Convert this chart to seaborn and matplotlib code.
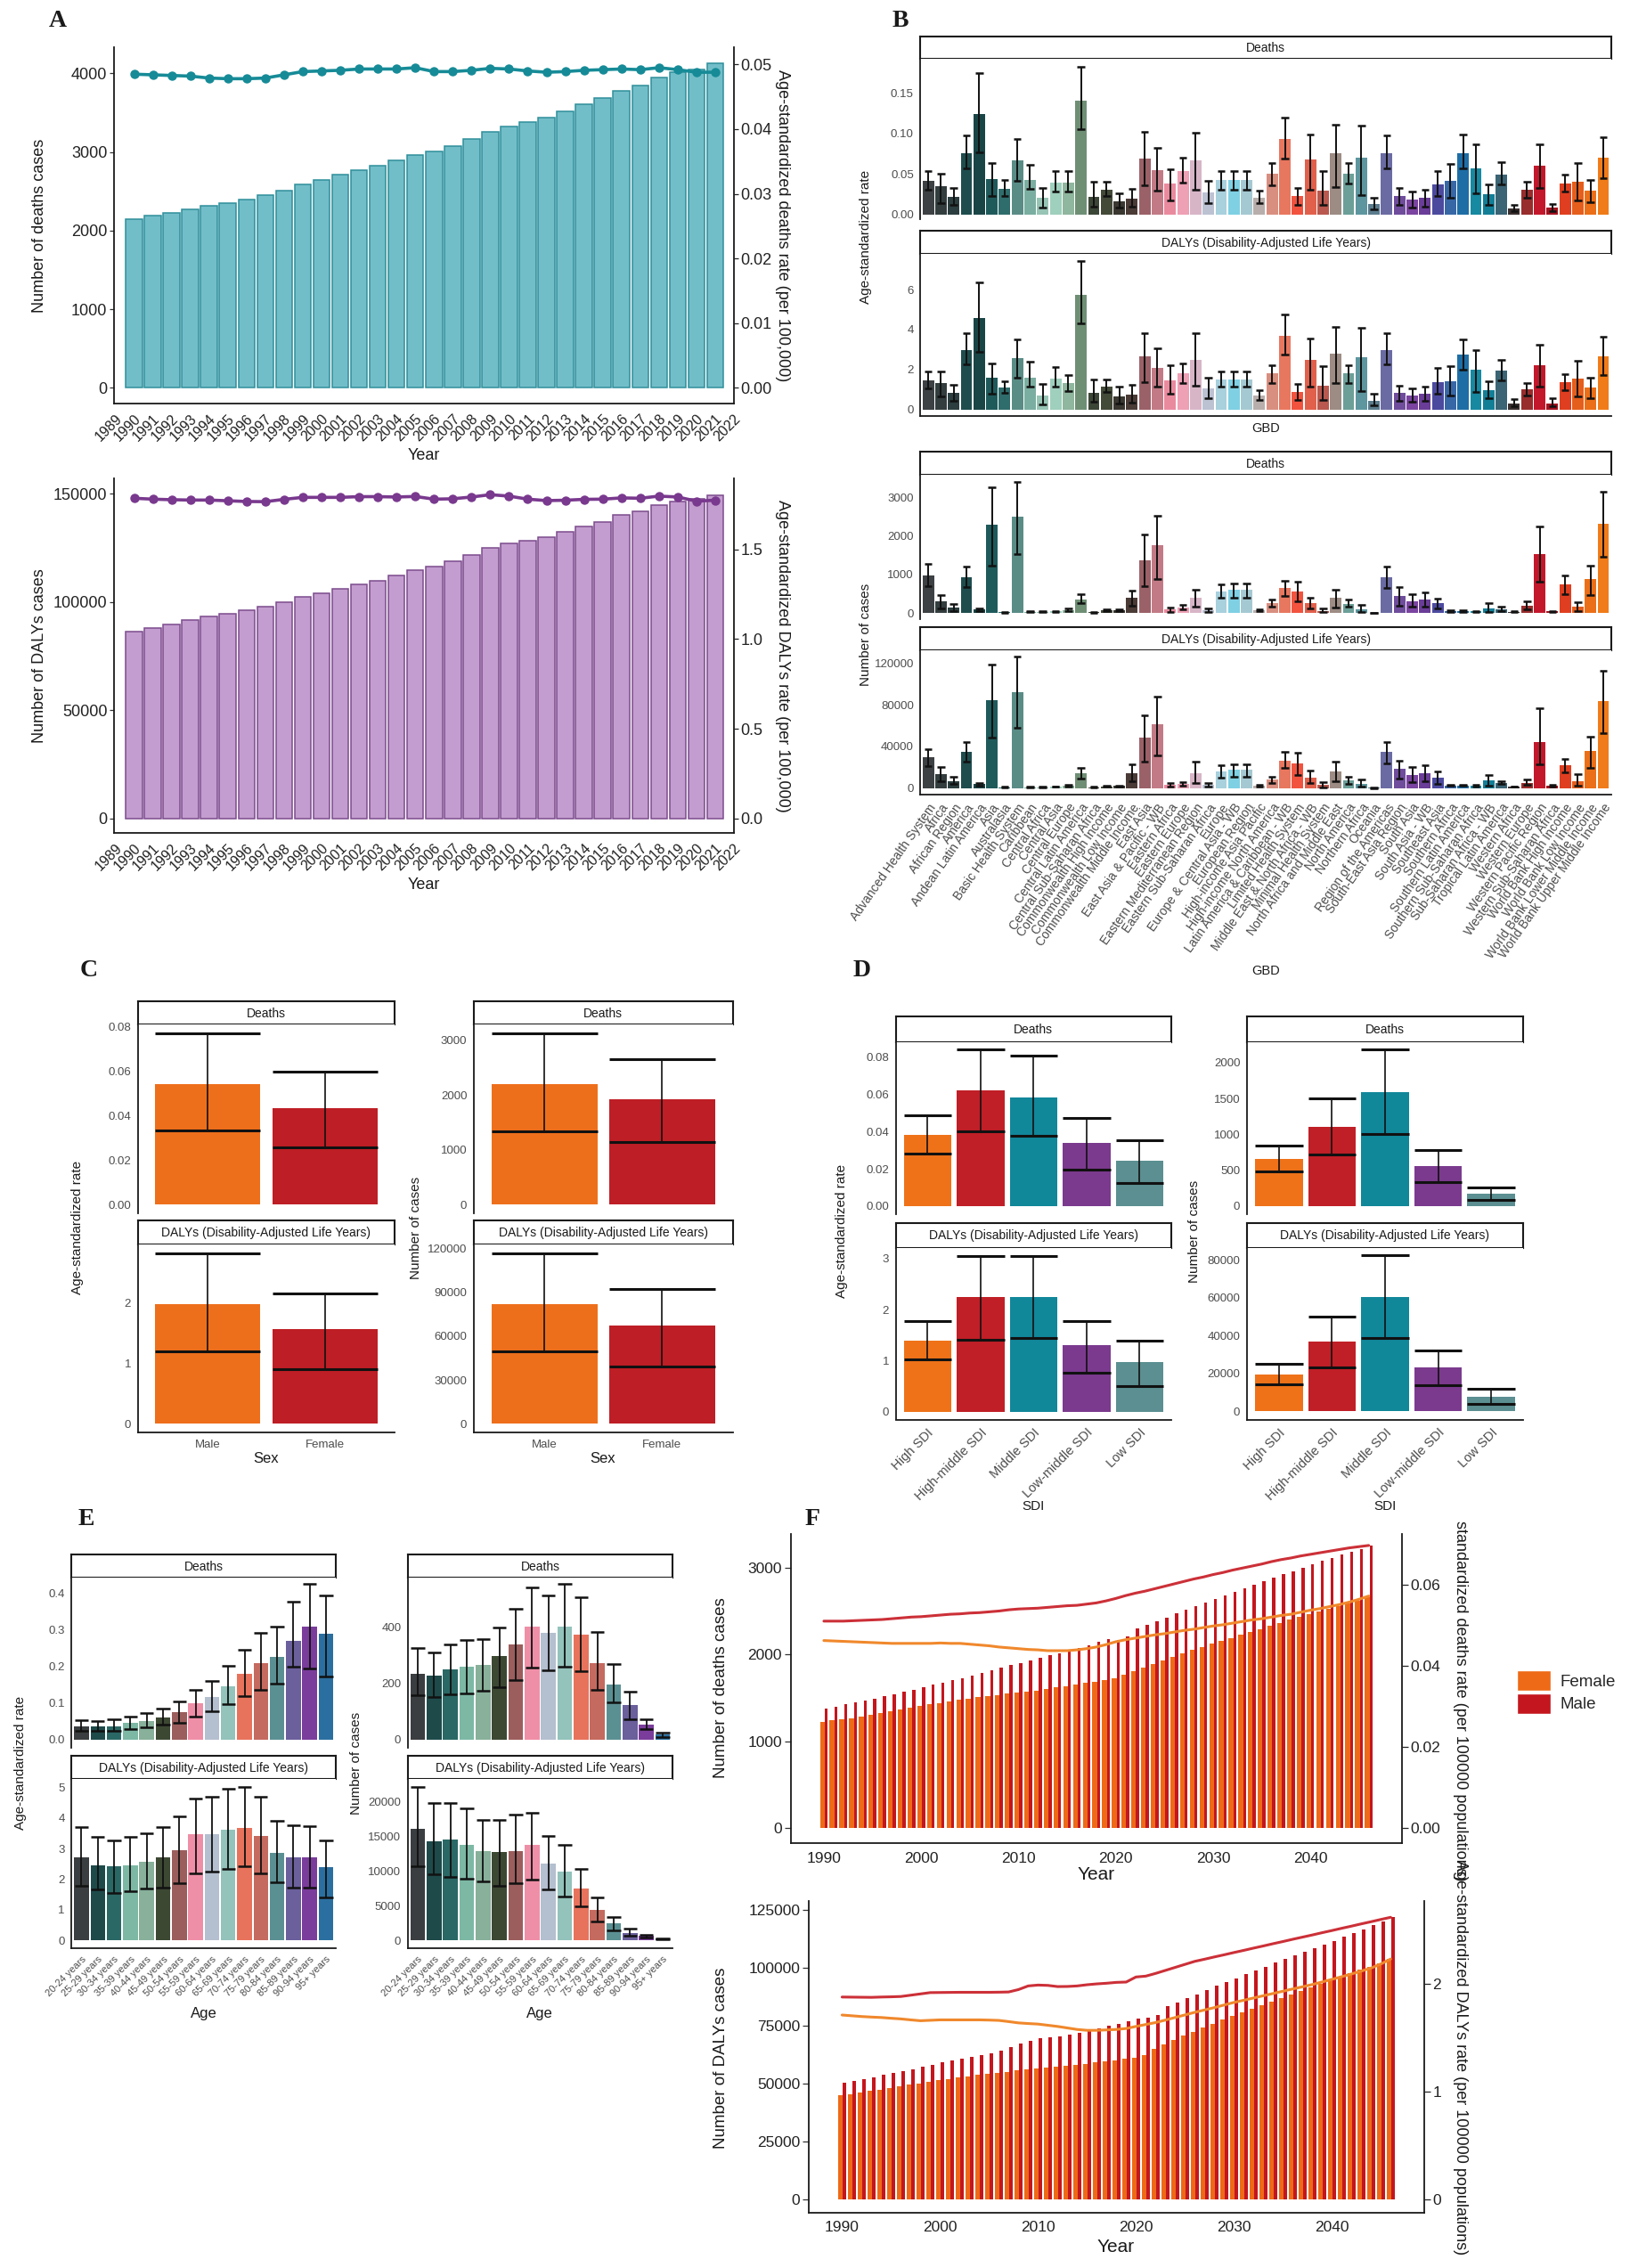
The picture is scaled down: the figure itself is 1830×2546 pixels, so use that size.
import numpy as np
import pandas as pd
import matplotlib.pyplot as plt
import seaborn as sns
from matplotlib.colors import to_rgba
from matplotlib.patches import Patch, Rectangle

W, H = 1831, 2546

# ---------- A: global trend 1990-2021 ----------
a_years = list(range(1990, 2022))
a_deaths = [2145, 2187, 2229, 2270, 2316, 2346, 2395, 2448, 2512, 2584,
            2645, 2709, 2770, 2830, 2891, 2966, 3008, 3076, 3163, 3254,
            3326, 3379, 3435, 3515, 3606, 3689, 3780, 3844, 3946, 4015,
            4045, 4132]
a_deaths_rate = [0.0485, 0.0484, 0.0483, 0.0482, 0.0479, 0.0478, 0.0478, 0.0479, 0.0484, 0.0489,
                 0.0490, 0.0491, 0.0493, 0.0493, 0.0493, 0.0495, 0.0489, 0.0489, 0.0491, 0.0494,
                 0.0493, 0.0490, 0.0488, 0.0489, 0.0491, 0.0492, 0.0493, 0.0492, 0.0495, 0.0492,
                 0.0488, 0.0488]
a_dalys = [86370, 88020, 89800, 91580, 93230, 94730, 96100, 97890, 99810, 102400,
           104060, 105980, 108030, 109950, 112150, 114620, 116260, 118730, 121880, 125170,
           127230, 128460, 130110, 132300, 134770, 136960, 140120, 141760, 144910, 146560,
           147520, 149440]
a_dalys_rate = [1.786, 1.781, 1.778, 1.776, 1.776, 1.772, 1.768, 1.767, 1.780, 1.791,
                1.791, 1.791, 1.795, 1.795, 1.793, 1.796, 1.781, 1.783, 1.793, 1.806,
                1.798, 1.781, 1.773, 1.775, 1.780, 1.781, 1.788, 1.786, 1.798, 1.793,
                1.770, 1.775]

# ---------- B: GBD regions ----------
gbd_regions = [
    "Advanced Health System", "Africa", "African Region", "America", "Andean Latin America",
    "Asia", "Australasia", "Basic Health System", "Caribbean", "Central Africa",
    "Central Asia", "Central Europe", "Central Latin America", "Central Sub-Saharan Africa",
    "Commonwealth High Income", "Commonwealth Low Income", "Commonwealth Middle Income",
    "East Asia", "East Asia & Pacific - WB", "Eastern Africa", "Eastern Europe",
    "Eastern Mediterranean Region", "Eastern Sub-Saharan Africa", "Europe",
    "Europe & Central Asia - WB", "European Region", "High-income Asia Pacific",
    "High-income North America", "Latin America & Caribbean - WB", "Limited Health System",
    "Middle East & North Africa - WB", "Minimal Health System", "North Africa and Middle East",
    "North America", "Northern Africa", "Oceania", "Region of the Americas",
    "South-East Asia Region", "South Asia", "South Asia - WB", "Southeast Asia",
    "Southern Africa", "Southern Latin America", "Southern Sub-Saharan Africa",
    "Sub-Saharan Africa - WB", "Tropical Latin America", "Western Africa", "Western Europe",
    "Western Pacific Region", "Western Sub-Saharan Africa", "World Bank High Income",
    "World Bank Low Income", "World Bank Lower Middle Income", "World Bank Upper Middle Income"]
b_colors = ['#3d4143', '#333d3e', '#2c3e3f', '#1f4d4e', '#1a4546', '#1f5a5b', '#2f6d6c', '#5a8c86', '#7aaea0', '#97c4b5',
            '#9fcfbd', '#8fb69e', '#6f8f75', '#3c4637', '#434a38', '#3a3730', '#4b3b37', '#9b6168', '#c27b86', '#e98a9f',
            '#eea0b5', '#d7b5c7', '#bcc2d2', '#a8d0dd', '#7fd0e3', '#a5c9d2', '#b8aeab', '#d88f80', '#e8775f', '#f2533f',
            '#e1604c', '#b9584e', '#9d8c84', '#6c9f98', '#5d969f', '#5b7c8c', '#6b6ba3', '#6f4d9c', '#7a44a0', '#6a3d98',
            '#4c4a9f', '#3867a6', '#1e6ea5', '#1789a0', '#137f97', '#3b6474', '#3a2f2f', '#982d2d', '#c3182b', '#a4121f',
            '#df3f20', '#e55e1c', '#eb6f18', '#f07c19']

b_rate_deaths = [0.041, 0.035, 0.022, 0.076, 0.124, 0.044, 0.032, 0.067, 0.043, 0.020,
                 0.039, 0.039, 0.140, 0.022, 0.030, 0.016, 0.019, 0.069, 0.055, 0.038,
                 0.054, 0.067, 0.027, 0.042, 0.042, 0.042, 0.020, 0.050, 0.093, 0.023,
                 0.068, 0.029, 0.075, 0.050, 0.070, 0.013, 0.076, 0.023, 0.018, 0.020,
                 0.037, 0.041, 0.076, 0.057, 0.025, 0.049, 0.007, 0.030, 0.060, 0.008,
                 0.038, 0.040, 0.029, 0.070]
b_rate_deaths_lo = [0.030, 0.014, 0.012, 0.057, 0.077, 0.023, 0.023, 0.041, 0.031, 0.008,
                    0.028, 0.028, 0.105, 0.009, 0.023, 0.008, 0.010, 0.036, 0.029, 0.017,
                    0.039, 0.030, 0.014, 0.030, 0.030, 0.030, 0.014, 0.036, 0.069, 0.012,
                    0.030, 0.012, 0.034, 0.038, 0.024, 0.006, 0.057, 0.012, 0.008, 0.010,
                    0.023, 0.020, 0.057, 0.026, 0.012, 0.037, 0.004, 0.021, 0.033, 0.004,
                    0.028, 0.017, 0.015, 0.045]
b_rate_deaths_hi = [0.053, 0.050, 0.033, 0.097, 0.174, 0.063, 0.043, 0.093, 0.061, 0.033,
                    0.053, 0.053, 0.182, 0.040, 0.040, 0.026, 0.031, 0.102, 0.082, 0.056,
                    0.070, 0.101, 0.041, 0.054, 0.054, 0.054, 0.029, 0.063, 0.119, 0.033,
                    0.099, 0.054, 0.111, 0.063, 0.109, 0.021, 0.097, 0.033, 0.028, 0.030,
                    0.053, 0.062, 0.098, 0.086, 0.037, 0.064, 0.012, 0.040, 0.086, 0.013,
                    0.049, 0.063, 0.043, 0.095]
b_rate_dalys = [1.46, 1.31, 0.83, 2.98, 4.59, 1.61, 1.09, 2.55, 1.61, 0.71,
                1.56, 1.31, 5.73, 0.82, 1.16, 0.67, 0.74, 2.65, 2.09, 1.46,
                1.79, 2.50, 1.04, 1.50, 1.50, 1.50, 0.71, 1.79, 3.69, 0.89,
                2.50, 1.19, 2.80, 1.79, 2.62, 0.42, 2.98, 0.82, 0.71, 0.79,
                1.38, 1.43, 2.73, 2.01, 0.98, 1.94, 0.30, 1.01, 2.23, 0.31,
                1.36, 1.53, 1.09, 2.68]
b_rate_dalys_lo = [1.06, 0.64, 0.42, 2.26, 2.87, 0.79, 0.83, 1.61, 1.12, 0.27,
                   1.13, 0.94, 4.32, 0.37, 0.86, 0.31, 0.34, 1.38, 1.12, 0.79,
                   1.31, 1.19, 0.57, 1.12, 1.12, 1.12, 0.49, 1.31, 2.77, 0.49,
                   1.12, 0.49, 1.31, 1.31, 0.94, 0.19, 2.26, 0.45, 0.39, 0.42,
                   0.79, 0.71, 1.98, 0.89, 0.57, 1.46, 0.15, 0.71, 1.16, 0.15,
                   0.98, 0.64, 0.57, 1.73]
b_rate_dalys_hi = [1.91, 1.91, 1.22, 3.81, 6.37, 2.32, 1.43, 3.51, 2.38, 1.27,
                   2.13, 1.73, 7.42, 1.49, 1.49, 1.12, 1.24, 3.80, 3.07, 2.20,
                   2.32, 3.80, 1.61, 1.91, 1.91, 1.91, 0.98, 2.23, 4.74, 1.27,
                   3.57, 2.17, 4.14, 2.23, 4.07, 0.79, 3.81, 1.19, 1.04, 1.16,
                   2.06, 2.16, 3.51, 2.95, 1.41, 2.47, 0.52, 1.34, 3.22, 0.54,
                   1.76, 2.43, 1.61, 3.62]
b_num_deaths = [982, 309, 155, 928, 100, 2282, 31, 2490, 39, 39,
                54, 85, 363, 31, 70, 70, 387, 1377, 1756, 93,
                155, 387, 85, 557, 596, 596, 85, 271, 650, 565,
                255, 62, 394, 248, 108, 8, 936, 449, 317, 356,
                255, 54, 54, 46, 131, 108, 39, 201, 1531, 46,
                735, 162, 874, 2305]
b_num_deaths_lo = [696, 131, 54, 681, 62, 1237, 15, 1524, 23, 23,
                   39, 62, 255, 15, 46, 46, 193, 696, 889, 39,
                   100, 170, 39, 402, 402, 402, 62, 170, 449, 309,
                   116, 23, 147, 162, 39, 0, 657, 193, 170, 170,
                   116, 39, 39, 31, 39, 54, 31, 100, 812, 39,
                   480, 54, 464, 1462]
b_num_deaths_hi = [1276, 464, 232, 1199, 131, 3248, 39, 3403, 46, 46,
                   62, 116, 487, 39, 100, 100, 572, 2026, 2514, 155,
                   209, 603, 131, 735, 773, 773, 108, 348, 843, 812,
                   402, 116, 596, 348, 209, 15, 1199, 673, 480, 534,
                   379, 70, 70, 62, 271, 162, 54, 317, 2243, 54,
                   982, 294, 1237, 3132]
b_num_dalys = [29580, 13210, 6600, 34460, 3730, 84140, 860, 92180, 860, 860,
               1440, 2300, 14640, 860, 1720, 2010, 14640, 48250, 61160, 3160,
               4020, 14360, 2870, 15790, 17520, 17520, 2300, 8040, 25840, 23830,
               10050, 2870, 16080, 7180, 4310, 290, 34460, 18090, 12350, 14640,
               10050, 2580, 2580, 2300, 7180, 5170, 1440, 4880, 43930, 2300,
               21540, 6600, 35320, 83280]
b_num_dalys_lo = [20960, 6600, 3730, 25270, 2300, 48250, 600, 58290, 600, 600,
                  1100, 1700, 9480, 600, 1300, 1500, 6600, 25270, 31590, 1440,
                  2300, 5170, 1440, 10340, 10910, 10910, 1700, 5170, 19530, 12920,
                  5170, 860, 6600, 3730, 1720, 100, 23830, 9480, 5740, 6600,
                  4310, 2000, 2000, 1700, 2300, 3730, 1100, 2870, 22400, 1700,
                  15220, 2300, 19530, 53130]
b_num_dalys_hi = [37620, 20100, 10910, 44510, 5170, 118590, 1100, 126350, 1100, 1100,
                  1800, 2900, 19530, 1100, 2100, 2500, 22970, 69780, 87870, 5170,
                  5740, 25270, 4600, 21540, 22970, 22970, 2900, 10910, 34460, 33880,
                  16650, 5740, 25270, 10910, 8040, 500, 43930, 25840, 20390, 21820,
                  15790, 3200, 3200, 2900, 12350, 6600, 1800, 8040, 76960, 2900,
                  28140, 13210, 49680, 112850]

# ---------- C: sex ----------
c_sex = ['Male', 'Female']
c_colors = ['#ee6f1b', '#be1e25']
c_rate_deaths, c_rate_deaths_lo, c_rate_deaths_hi = [0.0543, 0.0434], [0.0335, 0.0258], [0.0768, 0.0599]
c_rate_dalys, c_rate_dalys_lo, c_rate_dalys_hi = [1.989, 1.570], [1.204, 0.912], [2.828, 2.159]
c_num_deaths, c_num_deaths_lo, c_num_deaths_hi = [2190, 1922], [1340, 1136], [3116, 2650]
c_num_dalys, c_num_dalys_lo, c_num_dalys_hi = [81780, 66900], [49420, 38920], [116530, 92270]

# ---------- D: SDI ----------
d_sdi = ['High SDI', 'High-middle SDI', 'Middle SDI', 'Low-middle SDI', 'Low SDI']
d_colors = ['#ef7219', '#c01f27', '#11879a', '#7b3a8e', '#5b8f91']
d_rate_deaths = [0.0381, 0.0620, 0.0585, 0.0339, 0.0242]
d_rate_deaths_lo = [0.0282, 0.0402, 0.0376, 0.0197, 0.0123]
d_rate_deaths_hi = [0.0490, 0.0842, 0.0809, 0.0471, 0.0355]
d_rate_dalys = [1.384, 2.239, 2.239, 1.302, 0.962]
d_rate_dalys_lo = [1.019, 1.409, 1.447, 0.761, 0.491]
d_rate_dalys_hi = [1.774, 3.050, 3.050, 1.774, 1.390]
d_num_deaths = [652, 1110, 1587, 562, 171]
d_num_deaths_lo = [481, 719, 1007, 333, 90]
d_num_deaths_hi = [850, 1506, 2185, 778, 256]
d_num_dalys = [19320, 36780, 60510, 23220, 7800]
d_num_dalys_lo = [14240, 23390, 38980, 13730, 3900]
d_num_dalys_hi = [25080, 50170, 82370, 32200, 11860]

# ---------- E: age ----------
e_ages = ['20-24 years', '25-29 years', '30-34 years', '35-39 years', '40-44 years', '45-49 years',
          '50-54 years', '55-59 years', '60-64 years', '65-69 years', '70-74 years', '75-79 years',
          '80-84 years', '85-89 years', '90-94 years', '95+ years']
e_colors = ['#3b3e40', '#1e4a4a', '#2a6865', '#7db8a5', '#88b09a', '#3d4833', '#9b5e5d', '#ef8fa7',
            '#b4bfcf', '#93c3bb', '#e8735c', '#c56a5f', '#5b9093', '#6b5f9c', '#7b3d9c', '#2b6fa0']
e_rate_deaths = [0.0357, 0.0357, 0.0375, 0.0448, 0.0503, 0.0595, 0.0750, 0.0997, 0.1162, 0.1455, 0.1802, 0.2095, 0.2260, 0.2690, 0.3083, 0.2882]
e_rate_deaths_lo = [0.0247, 0.0247, 0.0247, 0.0293, 0.0339, 0.0403, 0.0467, 0.0640, 0.0769, 0.0961, 0.1189, 0.1363, 0.1528, 0.1985, 0.1940, 0.1729]
e_rate_deaths_hi = [0.0540, 0.0520, 0.0558, 0.0640, 0.0723, 0.0842, 0.1043, 0.1363, 0.1601, 0.2004, 0.2443, 0.2900, 0.3083, 0.3751, 0.4254, 0.3934]
e_rate_dalys = [2.70, 2.46, 2.41, 2.46, 2.57, 2.71, 2.94, 3.47, 3.47, 3.62, 3.67, 3.40, 2.86, 2.70, 2.70, 2.38]
e_rate_dalys_lo = [1.78, 1.65, 1.54, 1.60, 1.68, 1.71, 1.87, 2.19, 2.25, 2.32, 2.43, 2.19, 1.90, 1.71, 1.71, 1.41]
e_rate_dalys_hi = [3.70, 3.37, 3.27, 3.39, 3.49, 3.70, 4.06, 4.64, 4.70, 4.95, 5.02, 4.70, 3.89, 3.76, 3.73, 3.25]
e_num_deaths = [235, 229, 249, 260, 267, 298, 338, 404, 382, 404, 374, 274, 198, 122, 54, 20]
e_num_deaths_lo = [158, 152, 160, 164, 174, 188, 212, 257, 247, 260, 244, 178, 132, 74, 37, 8]
e_num_deaths_hi = [326, 311, 340, 356, 360, 401, 468, 543, 514, 556, 508, 383, 268, 170, 74, 24]
e_num_dalys = [16100, 14290, 14520, 13810, 12860, 12760, 12900, 13710, 11100, 9900, 7520, 4430, 2430, 1100, 620, 240]
e_num_dalys_lo = [10620, 9520, 9190, 8860, 8480, 7900, 8240, 8710, 7290, 6330, 4900, 2760, 1430, 620, 380, 140]
e_num_dalys_hi = [22140, 19760, 19760, 19050, 17380, 17380, 18100, 18330, 15050, 13710, 10330, 6190, 3380, 1670, 760, 290]

# ---------- F: projection to 2046 ----------
f_years = list(range(1990, 2047))
f_deaths_male = [1370, 1395, 1422, 1446, 1470, 1491, 1515, 1543, 1567, 1594,
                 1625, 1649, 1677, 1701, 1729, 1756, 1784, 1815, 1842, 1873,
                 1901, 1928, 1956, 1987, 2014, 2045, 2076, 2107, 2142, 2176,
                 2163, 2204, 2297, 2335, 2383, 2424, 2469, 2514, 2555, 2596,
                 2638, 2679, 2720, 2762, 2800, 2841, 2879, 2920, 2958, 2996,
                 3037, 3075, 3110, 3147, 3182, 3216, 3251]
f_deaths_female = [1222, 1240, 1253, 1267, 1284, 1302, 1322, 1343, 1364, 1384,
                   1405, 1422, 1439, 1457, 1474, 1491, 1505, 1519, 1532, 1546,
                   1556, 1570, 1584, 1601, 1618, 1636, 1653, 1670, 1687, 1705,
                   1722, 1763, 1808, 1849, 1887, 1928, 1970, 2011, 2049, 2083,
                   2121, 2156, 2190, 2225, 2259, 2293, 2328, 2362, 2397, 2428,
                   2462, 2493, 2524, 2555, 2590, 2621, 2658]
f_deaths_rate_male = [0.0511, 0.0511, 0.0511, 0.0512, 0.0513, 0.0514, 0.0515, 0.0517, 0.0519, 0.0521,
                      0.0522, 0.0524, 0.0526, 0.0528, 0.0529, 0.0531, 0.0532, 0.0534, 0.0536, 0.0539,
                      0.0541, 0.0542, 0.0543, 0.0545, 0.0547, 0.0549, 0.0550, 0.0553, 0.0556, 0.0561,
                      0.0567, 0.0574, 0.0580, 0.0585, 0.0591, 0.0597, 0.0603, 0.0609, 0.0615, 0.0620,
                      0.0626, 0.0631, 0.0637, 0.0642, 0.0647, 0.0652, 0.0658, 0.0663, 0.0667, 0.0672,
                      0.0676, 0.0680, 0.0684, 0.0688, 0.0692, 0.0695, 0.0698]
f_deaths_rate_female = [0.0463, 0.0462, 0.0461, 0.0460, 0.0459, 0.0458, 0.0457, 0.0456, 0.0456, 0.0456,
                        0.0456, 0.0456, 0.0457, 0.0456, 0.0456, 0.0454, 0.0452, 0.0450, 0.0447, 0.0445,
                        0.0443, 0.0441, 0.0440, 0.0438, 0.0438, 0.0438, 0.0440, 0.0443, 0.0447, 0.0453,
                        0.0460, 0.0465, 0.0469, 0.0473, 0.0477, 0.0480, 0.0484, 0.0488, 0.0491, 0.0495,
                        0.0499, 0.0502, 0.0506, 0.0510, 0.0514, 0.0517, 0.0521, 0.0525, 0.0528, 0.0533,
                        0.0538, 0.0542, 0.0547, 0.0552, 0.0558, 0.0565, 0.0573]
f_dalys_male = [50260, 50900, 51940, 52710, 53620, 54520, 55300, 56070, 57110, 58140,
                59040, 59950, 60720, 61500, 62270, 63050, 63950, 65500, 67180, 68480,
                69510, 70030, 70410, 70930, 71710, 73260, 73900, 74940, 75840, 76870,
                78040, 78300, 79500, 83200, 85010, 86690, 88370, 90180, 91990, 93670,
                95350, 97160, 98840, 100390, 102070, 103620, 105170, 106720, 108400, 109950,
                111500, 113180, 114860, 116540, 118220, 119900, 121580]
f_dalys_female = [44830, 45480, 46120, 46770, 47420, 48060, 48710, 49350, 50000, 50650,
                  51290, 51940, 52580, 53100, 53620, 54130, 54650, 55040, 55560, 55940,
                  56330, 56850, 57240, 57620, 58140, 58530, 59040, 59560, 60080, 60590,
                  61110, 62270, 64860, 66800, 68730, 70540, 72350, 74160, 75840, 77520,
                  79070, 80620, 82170, 83720, 85270, 86820, 88370, 89920, 91470, 93020,
                  94570, 96120, 97540, 98960, 100390, 101810, 103620]
f_dalys_rate_male = [1.878, 1.877, 1.876, 1.875, 1.878, 1.880, 1.883, 1.895, 1.907, 1.919,
                     1.920, 1.921, 1.922, 1.922, 1.922, 1.922, 1.923, 1.925, 1.947, 1.981,
                     1.989, 1.986, 1.975, 1.976, 1.981, 1.992, 2.000, 2.006, 2.014, 2.017,
                     2.064, 2.072, 2.097, 2.125, 2.153, 2.181, 2.209, 2.229, 2.250, 2.270,
                     2.291, 2.311, 2.332, 2.352, 2.373, 2.393, 2.414, 2.434, 2.454, 2.475,
                     2.495, 2.516, 2.536, 2.557, 2.577, 2.598, 2.618]
f_dalys_rate_female = [1.711, 1.704, 1.697, 1.692, 1.688, 1.681, 1.675, 1.666, 1.658, 1.662,
                       1.666, 1.666, 1.666, 1.666, 1.666, 1.664, 1.661, 1.650, 1.638, 1.632,
                       1.627, 1.616, 1.605, 1.591, 1.577, 1.569, 1.569, 1.573, 1.577, 1.586,
                       1.605, 1.623, 1.641, 1.664, 1.688, 1.712, 1.736, 1.758, 1.780, 1.804,
                       1.828, 1.848, 1.869, 1.890, 1.911, 1.932, 1.953, 1.973, 1.994, 2.018,
                       2.042, 2.067, 2.092, 2.119, 2.147, 2.185, 2.231]

sns.set_style('white')
plt.rcParams['font.family'] = ['Liberation Sans', 'DejaVu Sans']
SERIF = ['Liberation Serif', 'DejaVu Serif']
INK = '#1a1a1a'
GREY = '#4d4d4d'

fig = plt.figure(figsize=(W / 100, H / 100), dpi=100)
fig.patch.set_facecolor('white')


def add_ax(x0, y0, x1, y1):
    return fig.add_axes([x0 / W, 1 - y1 / H, (x1 - x0) / W, (y1 - y0) / H])


def ftext(x, y, s, **kw):
    kw.setdefault('ha', 'center')
    kw.setdefault('va', 'center')
    kw.setdefault('color', INK)
    return fig.text(x / W, 1 - y / H, s, **kw)


def classic(ax, bottom=True, labelcolor=GREY, fs=9.5):
    ax.spines['top'].set_visible(False)
    ax.spines['right'].set_visible(False)
    ax.spines['bottom'].set_visible(bottom)
    for sp in ['left', 'bottom']:
        ax.spines[sp].set_linewidth(1.3)
        ax.spines[sp].set_color(INK)
    ax.tick_params(axis='both', length=3.5, width=0.9, color='#333333',
                   labelcolor=labelcolor, labelsize=fs, pad=2)
    if not bottom:
        ax.tick_params(axis='x', bottom=False, labelbottom=False)
    ax.set_xlabel('')
    ax.set_ylabel('')


def strip(x0, y0, x1, y1, title, fs=10):
    sa = add_ax(x0, y0, x1, y1)
    sa.set_xticks([])
    sa.set_yticks([])
    for sp in sa.spines.values():
        sp.set_visible(True)
        sp.set_linewidth(1.5)
        sp.set_color(INK)
    sa.text(0.5, 0.48, title, ha='center', va='center', fontsize=fs, color=INK,
            transform=sa.transAxes)


DALY_TITLE = 'DALYs (Disability-Adjusted Life Years)'


def facet_bars(x0, x1, rows, cats, colors, cap=0.45, lw_v=1.2, lw_c=2.2,
               xlabels=True, rot=0, xfs=9.5):
    n = len(cats)
    xs = np.arange(n)
    for i, r in enumerate(rows):
        strip(x0, r['strip'][0], x1, r['strip'][1], r['title'])
        ax = add_ax(x0, r['strip'][1], x1, r['bottom'])
        sns.barplot(x=cats, y=r['val'], hue=cats, order=cats, hue_order=cats, palette=colors,
                    legend=False, width=0.9, saturation=1, errorbar=None, linewidth=0, ax=ax)
        ax.vlines(xs, r['lo'], r['hi'], color='#111111', lw=lw_v, zorder=3)
        ax.hlines(r['lo'], xs - cap, xs + cap, color='#111111', lw=lw_c, zorder=3)
        ax.hlines(r['hi'], xs - cap, xs + cap, color='#111111', lw=lw_c, zorder=3)
        ax.set_xlim(-0.6, n - 0.4)
        ax.set_ylim(*r['ylim'])
        ax.set_yticks(r['ticks'])
        ax.set_yticklabels([r['fmt'].format(v) for v in r['ticks']])
        last = i == len(rows) - 1
        classic(ax, bottom=last)
        if last:
            ax.set_xticks(xs)
            if xlabels:
                if rot:
                    ax.set_xticklabels(cats, rotation=rot, ha='right', rotation_mode='anchor',
                                       fontsize=xfs)
                else:
                    ax.set_xticklabels(cats, fontsize=xfs)
            else:
                ax.set_xticklabels([])


# ================= A =================
teal_fill, teal_edge, teal_line = '#72bec8', '#2f8f9b', '#168b97'
lav_fill, lav_edge, lav_line = '#c39dcf', '#7c4c8d', '#79398e'


def trend(box, vals, rates, fill, edge, line, ylim, yticks, rlim, rticks, rfmt):
    ax = add_ax(*box)
    sns.barplot(x=a_years, y=vals, native_scale=True, color=fill, edgecolor=edge, linewidth=1.1,
                width=0.88, saturation=1, errorbar=None, ax=ax)
    ax2 = ax.twinx()
    sns.lineplot(x=a_years, y=rates, ax=ax2, color=line, linewidth=2.6, marker='o',
                 markersize=7.5, markeredgewidth=0)
    ax.set_xlim(1988.93, 2022.0)
    ax.set_ylim(*ylim)
    ax.set_yticks(yticks)
    ax.set_yticklabels([str(v) for v in yticks])
    ax.set_xticks(range(1989, 2023))
    ax.set_xticklabels([str(y) for y in range(1989, 2023)], rotation=45, ha='right',
                       rotation_mode='anchor')
    classic(ax, labelcolor='#222222', fs=13)
    ax.tick_params(axis='x', labelsize=11.5, length=5)
    ax2.set_ylim(*rlim)
    ax2.set_yticks(rticks)
    ax2.set_yticklabels([rfmt.format(v) for v in rticks])
    for sp in ['top', 'left', 'bottom']:
        ax2.spines[sp].set_visible(False)
    ax2.spines['right'].set_linewidth(1.3)
    ax2.spines['right'].set_color(INK)
    ax2.tick_params(axis='y', length=3.5, width=0.9, labelcolor='#222222', labelsize=13, pad=2)
    ax2.set_ylabel('')
    return ax


trend((128, 53, 824, 453), a_deaths, a_deaths_rate, teal_fill, teal_edge, teal_line,
      (-200, 4332), [0, 1000, 2000, 3000, 4000], (-0.00244, 0.05267),
      [0, 0.01, 0.02, 0.03, 0.04, 0.05], '{:.2f}')
trend((128, 537, 824, 935), a_dalys, a_dalys_rate, lav_fill, lav_edge, lav_line,
      (-6718, 157100), [0, 50000, 100000, 150000], (-0.081, 1.897),
      [0, 0.5, 1.0, 1.5], '{:.1f}')
ftext(65, 24, 'A', fontsize=20, fontweight='bold', family=SERIF)
ftext(45, 253, 'Number of deaths cases', rotation=90, fontsize=13)
ftext(879, 253, 'Age-standardized deaths rate (per 100,000)', rotation=-90, fontsize=13)
ftext(476, 512, 'Year', fontsize=13)
ftext(45, 736, 'Number of DALYs cases', rotation=90, fontsize=13)
ftext(879, 736, 'Age-standardized DALYs rate (per 100,000)', rotation=-90, fontsize=13)
ftext(476, 993, 'Year', fontsize=13)

# ================= B =================
bx0, bx1 = 1033.5, 1808.6
facet_bars(bx0, bx1, [
    dict(strip=(40.7, 66), bottom=246, title='Deaths', val=b_rate_deaths, lo=b_rate_deaths_lo,
         hi=b_rate_deaths_hi, ylim=(-0.0059, 0.192), ticks=[0, 0.05, 0.10, 0.15], fmt='{:.2f}'),
    dict(strip=(259, 285), bottom=467, title=DALY_TITLE, val=b_rate_dalys, lo=b_rate_dalys_lo,
         hi=b_rate_dalys_hi, ylim=(-0.33, 7.79), ticks=[0, 2, 4, 6], fmt='{:.0f}'),
], gbd_regions, b_colors, cap=0.3, lw_v=1.4, lw_c=1.8, xlabels=False)
facet_bars(bx0, bx1, [
    dict(strip=(507, 533), bottom=695, title='Deaths', val=b_num_deaths, lo=b_num_deaths_lo,
         hi=b_num_deaths_hi, ylim=(-155, 3581), ticks=[0, 1000, 2000, 3000], fmt='{:.0f}'),
    dict(strip=(704, 730), bottom=892, title=DALY_TITLE, val=b_num_dalys, lo=b_num_dalys_lo,
         hi=b_num_dalys_hi, ylim=(-6320, 132380), ticks=[0, 40000, 80000, 120000], fmt='{:.0f}'),
], gbd_regions, b_colors, cap=0.3, lw_v=1.4, lw_c=1.8, xlabels=True, rot=55, xfs=10)
ftext(1011, 23, 'B', fontsize=20, fontweight='bold', family=SERIF)
ftext(972, 266, 'Age-standardized rate', rotation=90, fontsize=11)
ftext(972, 712, 'Number of cases', rotation=90, fontsize=11)
ftext((bx0 + bx1) / 2, 481, 'GBD', fontsize=10.5)
ftext((bx0 + bx1) / 2, 1090, 'GBD', fontsize=10.5)

# ================= C =================
c_rows_y = [(1124.4, 1150.3), 1362, (1370, 1397.2), 1608]
facet_bars(154.6, 443.4, [
    dict(strip=c_rows_y[0], bottom=c_rows_y[1], title='Deaths', val=c_rate_deaths,
         lo=c_rate_deaths_lo, hi=c_rate_deaths_hi, ylim=(-0.0039, 0.0808),
         ticks=[0, 0.02, 0.04, 0.06, 0.08], fmt='{:.2f}'),
    dict(strip=c_rows_y[2], bottom=c_rows_y[3], title=DALY_TITLE, val=c_rate_dalys,
         lo=c_rate_dalys_lo, hi=c_rate_dalys_hi, ylim=(-0.143, 2.97), ticks=[0, 1, 2], fmt='{:.0f}'),
], c_sex, c_colors)
facet_bars(532, 822.6, [
    dict(strip=c_rows_y[0], bottom=c_rows_y[1], title='Deaths', val=c_num_deaths,
         lo=c_num_deaths_lo, hi=c_num_deaths_hi, ylim=(-157, 3279),
         ticks=[0, 1000, 2000, 3000], fmt='{:.0f}'),
    dict(strip=c_rows_y[2], bottom=c_rows_y[3], title=DALY_TITLE, val=c_num_dalys,
         lo=c_num_dalys_lo, hi=c_num_dalys_hi, ylim=(-5900, 122450),
         ticks=[0, 30000, 60000, 90000, 120000], fmt='{:.0f}'),
], c_sex, c_colors)
ftext(100, 1090, 'C', fontsize=20, fontweight='bold', family=SERIF)
ftext(87, 1378, 'Age-standardized rate', rotation=90, fontsize=11)
ftext(467, 1378, 'Number of cases', rotation=90, fontsize=11)
ftext(299, 1638, 'Sex', fontsize=12)
ftext(677, 1638, 'Sex', fontsize=12)

# ================= D =================
d_rows_y = [(1141.3, 1170), 1362.7, (1372.8, 1400.8), 1593.5]
facet_bars(1005.6, 1315, [
    dict(strip=d_rows_y[0], bottom=d_rows_y[1], title='Deaths', val=d_rate_deaths,
         lo=d_rate_deaths_lo, hi=d_rate_deaths_hi, ylim=(-0.0042, 0.088),
         ticks=[0, 0.02, 0.04, 0.06, 0.08], fmt='{:.2f}'),
    dict(strip=d_rows_y[2], bottom=d_rows_y[3], title=DALY_TITLE, val=d_rate_dalys,
         lo=d_rate_dalys_lo, hi=d_rate_dalys_hi, ylim=(-0.157, 3.21), ticks=[0, 1, 2, 3], fmt='{:.0f}'),
], d_sdi, d_colors, rot=45, xfs=10.5)
facet_bars(1400, 1710, [
    dict(strip=d_rows_y[0], bottom=d_rows_y[1], title='Deaths', val=d_num_deaths,
         lo=d_num_deaths_lo, hi=d_num_deaths_hi, ylim=(-108, 2284),
         ticks=[0, 500, 1000, 1500, 2000], fmt='{:.0f}'),
    dict(strip=d_rows_y[2], bottom=d_rows_y[3], title=DALY_TITLE, val=d_num_dalys,
         lo=d_num_dalys_lo, hi=d_num_dalys_hi, ylim=(-4240, 86440),
         ticks=[0, 20000, 40000, 60000, 80000], fmt='{:.0f}'),
], d_sdi, d_colors, rot=45, xfs=10.5)
ftext(968, 1090, 'D', fontsize=20, fontweight='bold', family=SERIF)
ftext(945, 1382, 'Age-standardized rate', rotation=90, fontsize=11)
ftext(1341, 1382, 'Number of cases', rotation=90, fontsize=11)
ftext(1160, 1691, 'SDI', fontsize=11)
ftext(1555, 1691, 'SDI', fontsize=11)

# ================= E =================
e_rows_y = [(1745.3, 1771.3), 1961.6, (1971, 1997), 2186.5]
facet_bars(80.5, 377, [
    dict(strip=e_rows_y[0], bottom=e_rows_y[1], title='Deaths', val=e_rate_deaths,
         lo=e_rate_deaths_lo, hi=e_rate_deaths_hi, ylim=(-0.021, 0.441),
         ticks=[0, 0.1, 0.2, 0.3, 0.4], fmt='{:.1f}'),
    dict(strip=e_rows_y[2], bottom=e_rows_y[3], title=DALY_TITLE, val=e_rate_dalys,
         lo=e_rate_dalys_lo, hi=e_rate_dalys_hi, ylim=(-0.24, 5.27),
         ticks=[0, 1, 2, 3, 4, 5], fmt='{:.0f}'),
], e_ages, e_colors, cap=0.42, lw_v=1.3, lw_c=1.8, rot=45, xfs=8)
facet_bars(458, 755, [
    dict(strip=e_rows_y[0], bottom=e_rows_y[1], title='Deaths', val=e_num_deaths,
         lo=e_num_deaths_lo, hi=e_num_deaths_hi, ylim=(-28, 577), ticks=[0, 200, 400], fmt='{:.0f}'),
    dict(strip=e_rows_y[2], bottom=e_rows_y[3], title=DALY_TITLE, val=e_num_dalys,
         lo=e_num_dalys_lo, hi=e_num_dalys_hi, ylim=(-1050, 23240),
         ticks=[0, 5000, 10000, 15000, 20000], fmt='{:.0f}'),
], e_ages, e_colors, cap=0.42, lw_v=1.3, lw_c=1.8, rot=45, xfs=8)
ftext(97, 1705, 'E', fontsize=20, fontweight='bold', family=SERIF)
ftext(23, 1979, 'Age-standardized rate', rotation=90, fontsize=11)
ftext(400, 1979, 'Number of cases', rotation=90, fontsize=11)
ftext(229, 2260, 'Age', fontsize=12)
ftext(606, 2260, 'Age', fontsize=12)

# ================= F =================
f_orange, f_red = '#ee6a17', '#c4161e'
f_orange_line, f_red_line = '#f0882c', '#cc3038'


def projection(box, female, male, rate_f, rate_m, ylim, yticks, rlim, rticks, rfmt):
    ax = add_ax(*box)
    bars = pd.DataFrame({'year': f_years * 2,
                         'sex': ['Female'] * len(f_years) + ['Male'] * len(f_years),
                         'value': female + male})
    sns.barplot(data=bars, x='year', y='value', hue='sex', hue_order=['Female', 'Male'],
                palette=[f_orange, f_red], native_scale=True, width=0.8, saturation=1,
                errorbar=None, linewidth=0, legend=False, ax=ax)
    # female bars a bit wider, male bars narrower, as in the original
    for p in ax.patches:
        if np.allclose(p.get_facecolor(), to_rgba(f_orange)):
            p.set_width(0.48)
        else:
            p.set_x(p.get_x() + 0.08)
            p.set_width(0.32)
    ax2 = ax.twinx()
    rates = pd.DataFrame({'year': f_years * 2,
                          'sex': ['Female'] * len(f_years) + ['Male'] * len(f_years),
                          'rate': rate_f + rate_m})
    sns.lineplot(data=rates, x='year', y='rate', hue='sex', hue_order=['Female', 'Male'],
                 palette=[f_orange_line, f_red_line], linewidth=2.2, legend=False, ax=ax2)
    ax.set_xlim(1986.6, 2049.4)
    ax.set_xticks(range(1990, 2041, 10))
    ax.set_xticklabels([str(y) for y in range(1990, 2041, 10)])
    ax.set_ylim(*ylim)
    ax.set_yticks(yticks)
    ax.set_yticklabels([str(v) for v in yticks])
    classic(ax, labelcolor='#222222', fs=12.5)
    ax.tick_params(length=5)
    ax2.set_ylim(*rlim)
    ax2.set_yticks(rticks)
    ax2.set_yticklabels([rfmt.format(v) for v in rticks])
    for sp in ['top', 'left', 'bottom']:
        ax2.spines[sp].set_visible(False)
    ax2.spines['right'].set_linewidth(1.3)
    ax2.spines['right'].set_color(INK)
    ax2.tick_params(axis='y', length=5, width=0.9, labelcolor='#222222', labelsize=12.5, pad=2)
    ax2.set_ylabel('')
    ax2.set_xlabel('')


projection((887.8, 1721.7, 1573.8, 2068.8), f_deaths_female, f_deaths_male,
           f_deaths_rate_female, f_deaths_rate_male, (-172, 3389), [0, 1000, 2000, 3000],
           (-0.0037, 0.0727), [0, 0.02, 0.04, 0.06], '{:.2f}')
projection((908, 2133.8, 1598.7, 2483.6), f_dalys_female, f_dalys_male,
           f_dalys_rate_female, f_dalys_rate_male, (-5625, 128750),
           [0, 25000, 50000, 75000, 100000, 125000], (-0.121, 2.771), [0, 1, 2], '{:.0f}')
ftext(912, 1706, 'F', fontsize=20, fontweight='bold', family=SERIF)
ftext(810, 1895, 'Number of deaths cases', rotation=90, fontsize=13.5)
ftext(810, 2310, 'Number of DALYs cases', rotation=90, fontsize=13.5)
ftext(1231, 2104, 'Year', fontsize=15)
ftext(1253, 2522, 'Year', fontsize=15)
t1 = ftext(1640, 1890, 'Age-standardized deaths rate (per 100000 populations)', rotation=-90,
           fontsize=13)
t1.set_clip_path(Rectangle((0, 0), 1, 1 - 1708 / H, transform=fig.transFigure))
ftext(1640, 2310, 'Age-standardized DALYs rate (per 100000 populations)', rotation=-90,
      fontsize=13)
fig.legend(handles=[Patch(facecolor=f_orange, label='Female'), Patch(facecolor=f_red, label='Male')],
           loc='upper left', bbox_to_anchor=(1690 / W, 1 - 1862 / H), frameon=False,
           fontsize=13.5, handlelength=2.0, handleheight=1.5, handletextpad=0.6,
           labelspacing=0.15, borderpad=0.2)

fig.savefig('out.png', dpi=100, facecolor='white')
